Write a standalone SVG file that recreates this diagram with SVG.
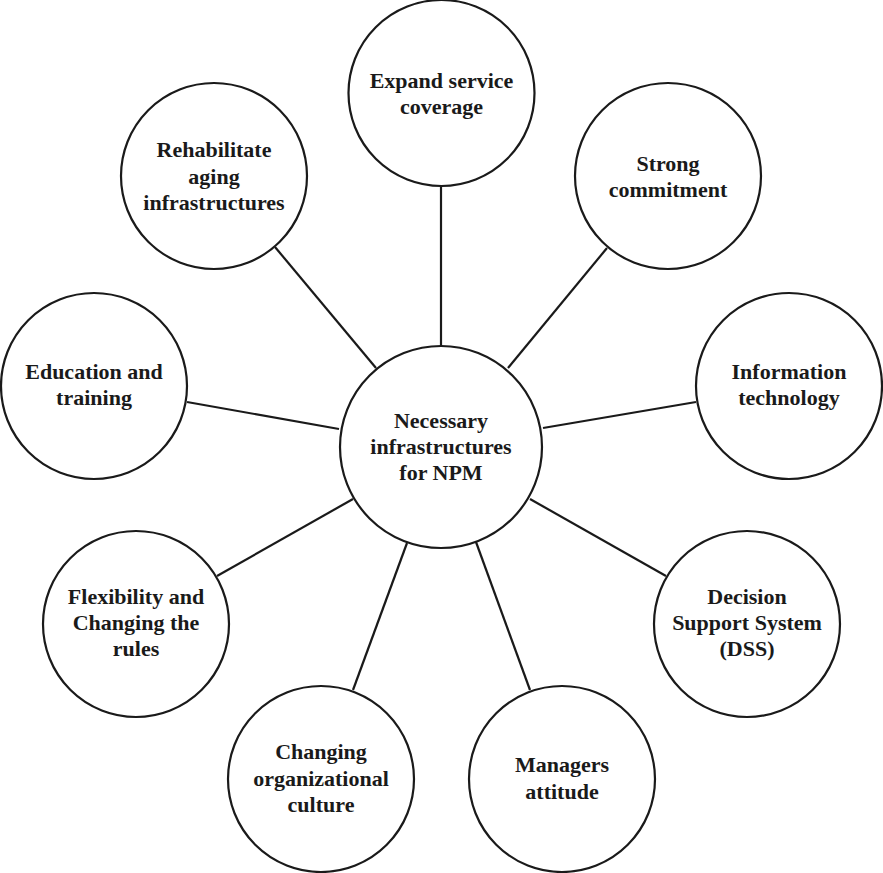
<svg xmlns="http://www.w3.org/2000/svg" width="883" height="873" viewBox="0 0 883 873">
<style>
.node circle{fill:#fff;stroke:#1a1a1a;stroke-width:2.2}
.node text{font-family:"Liberation Serif","Times New Roman",serif;font-weight:bold;font-size:22px;fill:#1a1a1a;text-anchor:middle}
#connectors line{stroke:#1a1a1a;stroke-width:2.2}
</style>
<rect width="883" height="873" fill="#fff"/>
<g id="connectors">
<line x1="441" y1="186" x2="441" y2="346"/>
<line x1="275" y1="247" x2="376" y2="368"/>
<line x1="187" y1="402" x2="339" y2="429"/>
<line x1="607" y1="248" x2="508" y2="368"/>
<line x1="696" y1="402" x2="543" y2="428"/>
<line x1="217" y1="576" x2="353" y2="499"/>
<line x1="353" y1="690" x2="407" y2="543"/>
<line x1="530" y1="690" x2="476" y2="542"/>
<line x1="666" y1="576" x2="530" y2="499"/>
</g>
<g id="n-center" class="node"><circle cx="441" cy="447" r="101"/><text x="441" y="428">Necessary</text><text x="441" y="454">infrastructures</text><text x="441" y="480">for NPM</text></g>
<g id="n-expand" class="node"><circle cx="441.5" cy="93" r="93"/><text x="441.5" y="88">Expand service</text><text x="441.5" y="114">coverage</text></g>
<g id="n-strong" class="node"><circle cx="668" cy="176" r="93"/><text x="668" y="171">Strong</text><text x="668" y="197">commitment</text></g>
<g id="n-it" class="node"><circle cx="789" cy="386" r="93"/><text x="789" y="379">Information</text><text x="789" y="405">technology</text></g>
<g id="n-dss" class="node"><circle cx="747" cy="624" r="93"/><text x="747" y="604">Decision</text><text x="747" y="630">Support System</text><text x="747" y="656">(DSS)</text></g>
<g id="n-managers" class="node"><circle cx="562" cy="779" r="93"/><text x="562" y="772">Managers</text><text x="562" y="799">attitude</text></g>
<g id="n-culture" class="node"><circle cx="321" cy="779" r="93"/><text x="321" y="759">Changing</text><text x="321" y="786">organizational</text><text x="321" y="812">culture</text></g>
<g id="n-flex" class="node"><circle cx="136" cy="624" r="93"/><text x="136" y="604">Flexibility and</text><text x="136" y="630">Changing the</text><text x="136" y="656">rules</text></g>
<g id="n-edu" class="node"><circle cx="94" cy="386" r="93"/><text x="94" y="379">Education and</text><text x="94" y="405">training</text></g>
<g id="n-rehab" class="node"><circle cx="214" cy="176" r="93"/><text x="214" y="157">Rehabilitate</text><text x="214" y="184">aging</text><text x="214" y="210">infrastructures</text></g>
</svg>
